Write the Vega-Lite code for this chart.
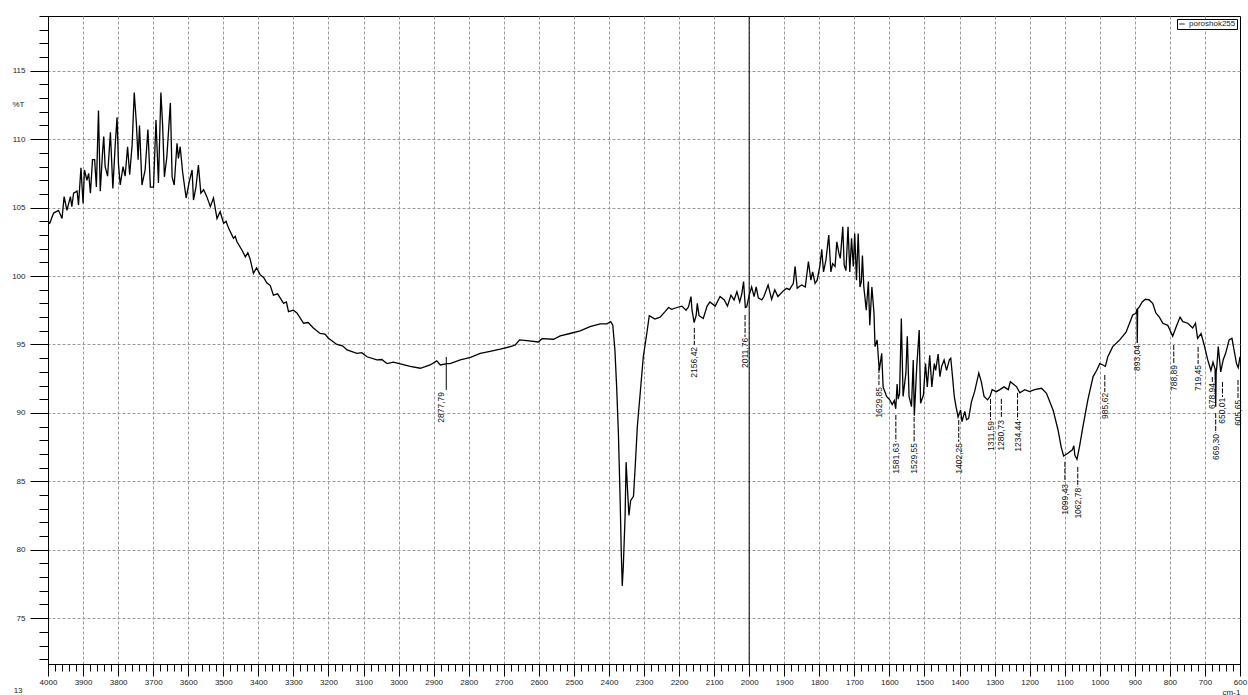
{
  "$schema": "https://vega.github.io/schema/vega-lite/v6.json",
  "width": 1192,
  "height": 648,
  "autosize": {"type": "none"},
  "padding": {"left": 48, "top": 16, "right": 8, "bottom": 31},
  "background": "white",
  "config": {"view": {"stroke": "black", "strokeWidth": 1}, "font": "Liberation Sans"},
  "title": {"text": "13", "orient": "bottom", "anchor": "start", "fontSize": 8, "fontWeight": "normal", "color": "#222", "offset": -9, "dx": 2},
  "datasets": {
    "spectrum": [
      {"wn":4000,"T":104.0},{"wn":3995,"T":103.85},{"wn":3984,"T":104.6},{"wn":3970,"T":104.8},{"wn":3960,"T":104.2},{"wn":3954,"T":105.8},{"wn":3946,"T":104.8},{"wn":3936,"T":105.8},{"wn":3932,"T":105.07},{"wn":3927,"T":106.05},{"wn":3917,"T":106.2},{"wn":3913,"T":105.2},{"wn":3906,"T":107.9},{"wn":3900,"T":105.3},{"wn":3896,"T":107.75},{"wn":3889,"T":107.0},{"wn":3884,"T":107.5},{"wn":3879,"T":106.05},{"wn":3873,"T":108.5},{"wn":3867,"T":108.5},{"wn":3862,"T":106.5},{"wn":3856,"T":112.1},{"wn":3851,"T":106.2},{"wn":3844,"T":109.2},{"wn":3841,"T":110.2},{"wn":3837,"T":108.0},{"wn":3830,"T":107.3},{"wn":3822,"T":110.5},{"wn":3815,"T":106.4},{"wn":3808,"T":109.7},{"wn":3803,"T":111.6},{"wn":3799,"T":108.2},{"wn":3794,"T":106.65},{"wn":3786,"T":108.0},{"wn":3780,"T":107.3},{"wn":3773,"T":109.45},{"wn":3767,"T":107.4},{"wn":3760,"T":109.6},{"wn":3754,"T":113.4},{"wn":3748,"T":111.2},{"wn":3743,"T":108.5},{"wn":3739,"T":111.0},{"wn":3732,"T":106.65},{"wn":3723,"T":107.75},{"wn":3715,"T":110.7},{"wn":3708,"T":106.5},{"wn":3699,"T":106.5},{"wn":3692,"T":111.4},{"wn":3685,"T":106.8},{"wn":3678,"T":113.4},{"wn":3673,"T":111.0},{"wn":3668,"T":107.25},{"wn":3661,"T":108.7},{"wn":3651,"T":112.65},{"wn":3646,"T":107.25},{"wn":3640,"T":106.65},{"wn":3632,"T":109.7},{"wn":3628,"T":108.6},{"wn":3623,"T":109.45},{"wn":3616,"T":107.6},{"wn":3606,"T":105.7},{"wn":3597,"T":106.9},{"wn":3589,"T":107.75},{"wn":3585,"T":105.55},{"wn":3578,"T":106.5},{"wn":3571,"T":108.1},{"wn":3564,"T":106.05},{"wn":3556,"T":106.3},{"wn":3547,"T":105.8},{"wn":3537,"T":105.07},{"wn":3528,"T":105.7},{"wn":3518,"T":104.2},{"wn":3509,"T":104.7},{"wn":3499,"T":103.85},{"wn":3492,"T":104.0},{"wn":3485,"T":103.5},{"wn":3471,"T":102.75},{"wn":3466,"T":102.9},{"wn":3461,"T":102.5},{"wn":3447,"T":101.9},{"wn":3437,"T":101.4},{"wn":3430,"T":101.7},{"wn":3423,"T":101.2},{"wn":3414,"T":100.2},{"wn":3405,"T":100.6},{"wn":3395,"T":100.1},{"wn":3385,"T":99.9},{"wn":3376,"T":99.5},{"wn":3366,"T":99.3},{"wn":3357,"T":98.6},{"wn":3345,"T":98.7},{"wn":3328,"T":98.0},{"wn":3320,"T":98.1},{"wn":3314,"T":97.4},{"wn":3300,"T":97.5},{"wn":3290,"T":97.3},{"wn":3271,"T":96.55},{"wn":3258,"T":96.6},{"wn":3243,"T":96.2},{"wn":3224,"T":95.8},{"wn":3210,"T":95.75},{"wn":3200,"T":95.45},{"wn":3176,"T":95.0},{"wn":3160,"T":94.9},{"wn":3147,"T":94.6},{"wn":3119,"T":94.35},{"wn":3105,"T":94.4},{"wn":3090,"T":94.1},{"wn":3062,"T":93.87},{"wn":3048,"T":93.9},{"wn":3033,"T":93.6},{"wn":3015,"T":93.7},{"wn":2995,"T":93.58},{"wn":2967,"T":93.4},{"wn":2938,"T":93.26},{"wn":2910,"T":93.5},{"wn":2891,"T":93.8},{"wn":2881,"T":93.5},{"wn":2862,"T":93.6},{"wn":2853,"T":93.6},{"wn":2824,"T":93.87},{"wn":2795,"T":94.06},{"wn":2767,"T":94.35},{"wn":2739,"T":94.5},{"wn":2710,"T":94.65},{"wn":2681,"T":94.84},{"wn":2667,"T":94.96},{"wn":2655,"T":95.33},{"wn":2634,"T":95.28},{"wn":2601,"T":95.18},{"wn":2591,"T":95.42},{"wn":2558,"T":95.38},{"wn":2539,"T":95.62},{"wn":2511,"T":95.8},{"wn":2482,"T":96.0},{"wn":2454,"T":96.3},{"wn":2425,"T":96.5},{"wn":2406,"T":96.5},{"wn":2395,"T":96.66},{"wn":2389,"T":96.4},{"wn":2383,"T":94.6},{"wn":2378,"T":91.9},{"wn":2373,"T":88.5},{"wn":2368,"T":83.6},{"wn":2365,"T":80.0},{"wn":2362,"T":77.36},{"wn":2359,"T":78.77},{"wn":2354,"T":82.4},{"wn":2351,"T":86.4},{"wn":2347,"T":84.4},{"wn":2343,"T":82.5},{"wn":2338,"T":83.6},{"wn":2330,"T":83.9},{"wn":2325,"T":86.1},{"wn":2319,"T":89.0},{"wn":2311,"T":91.4},{"wn":2302,"T":94.1},{"wn":2292,"T":95.8},{"wn":2285,"T":97.1},{"wn":2278,"T":97.0},{"wn":2269,"T":96.86},{"wn":2254,"T":97.0},{"wn":2240,"T":97.4},{"wn":2230,"T":97.7},{"wn":2221,"T":97.57},{"wn":2206,"T":97.7},{"wn":2192,"T":97.8},{"wn":2180,"T":97.5},{"wn":2173,"T":97.75},{"wn":2166,"T":98.5},{"wn":2163,"T":97.5},{"wn":2157,"T":96.6},{"wn":2151,"T":97.15},{"wn":2148,"T":98.0},{"wn":2143,"T":97.1},{"wn":2131,"T":96.9},{"wn":2120,"T":97.8},{"wn":2112,"T":98.1},{"wn":2097,"T":97.8},{"wn":2083,"T":98.5},{"wn":2071,"T":98.25},{"wn":2062,"T":97.8},{"wn":2052,"T":98.6},{"wn":2043,"T":98.25},{"wn":2035,"T":98.86},{"wn":2027,"T":98.1},{"wn":2021,"T":98.7},{"wn":2016,"T":99.6},{"wn":2011,"T":97.7},{"wn":2007,"T":97.75},{"wn":2000,"T":98.6},{"wn":1993,"T":99.2},{"wn":1986,"T":98.5},{"wn":1980,"T":99.2},{"wn":1974,"T":98.4},{"wn":1964,"T":98.25},{"wn":1958,"T":98.5},{"wn":1946,"T":99.35},{"wn":1936,"T":98.3},{"wn":1927,"T":99.0},{"wn":1918,"T":98.5},{"wn":1902,"T":98.93},{"wn":1893,"T":99.1},{"wn":1885,"T":99.0},{"wn":1874,"T":99.47},{"wn":1869,"T":100.7},{"wn":1863,"T":99.1},{"wn":1855,"T":99.27},{"wn":1850,"T":99.35},{"wn":1840,"T":99.2},{"wn":1831,"T":101.05},{"wn":1824,"T":99.7},{"wn":1819,"T":100.3},{"wn":1812,"T":99.47},{"wn":1806,"T":99.7},{"wn":1798,"T":100.8},{"wn":1793,"T":101.95},{"wn":1788,"T":100.3},{"wn":1781,"T":101.17},{"wn":1773,"T":103.0},{"wn":1767,"T":100.3},{"wn":1762,"T":100.9},{"wn":1755,"T":100.7},{"wn":1750,"T":102.5},{"wn":1744,"T":101.65},{"wn":1740,"T":101.3},{"wn":1733,"T":103.6},{"wn":1729,"T":100.8},{"wn":1724,"T":100.4},{"wn":1718,"T":103.6},{"wn":1713,"T":100.3},{"wn":1708,"T":102.75},{"wn":1703,"T":100.7},{"wn":1699,"T":103.1},{"wn":1694,"T":99.7},{"wn":1689,"T":103.1},{"wn":1684,"T":99.2},{"wn":1680,"T":99.6},{"wn":1677,"T":101.5},{"wn":1673,"T":99.2},{"wn":1666,"T":97.5},{"wn":1660,"T":99.6},{"wn":1656,"T":96.4},{"wn":1650,"T":99.2},{"wn":1644,"T":97.3},{"wn":1641,"T":94.84},{"wn":1635,"T":95.33},{"wn":1629,"T":93.1},{"wn":1622,"T":94.35},{"wn":1618,"T":91.9},{"wn":1608,"T":91.2},{"wn":1599,"T":90.95},{"wn":1592,"T":90.6},{"wn":1586,"T":90.9},{"wn":1582,"T":90.3},{"wn":1578,"T":92.1},{"wn":1575,"T":91.0},{"wn":1571,"T":91.4},{"wn":1566,"T":96.9},{"wn":1561,"T":91.2},{"wn":1553,"T":92.9},{"wn":1549,"T":95.6},{"wn":1544,"T":91.2},{"wn":1537,"T":90.45},{"wn":1532,"T":93.87},{"wn":1529,"T":89.8},{"wn":1522,"T":93.4},{"wn":1515,"T":96.05},{"wn":1511,"T":90.7},{"wn":1503,"T":91.3},{"wn":1497,"T":93.6},{"wn":1492,"T":91.9},{"wn":1485,"T":94.2},{"wn":1479,"T":91.9},{"wn":1472,"T":93.6},{"wn":1468,"T":93.1},{"wn":1461,"T":94.3},{"wn":1456,"T":92.65},{"wn":1451,"T":93.4},{"wn":1444,"T":93.87},{"wn":1437,"T":93.1},{"wn":1429,"T":93.87},{"wn":1425,"T":93.99},{"wn":1420,"T":92.65},{"wn":1415,"T":91.2},{"wn":1410,"T":90.45},{"wn":1404,"T":89.7},{"wn":1397,"T":90.2},{"wn":1393,"T":89.36},{"wn":1385,"T":90.1},{"wn":1380,"T":89.5},{"wn":1374,"T":89.6},{"wn":1366,"T":90.8},{"wn":1357,"T":91.55},{"wn":1345,"T":92.9},{"wn":1338,"T":92.28},{"wn":1330,"T":91.2},{"wn":1320,"T":90.95},{"wn":1313,"T":91.2},{"wn":1307,"T":91.7},{"wn":1295,"T":91.55},{"wn":1285,"T":91.7},{"wn":1273,"T":91.9},{"wn":1261,"T":91.7},{"wn":1255,"T":92.28},{"wn":1237,"T":91.9},{"wn":1228,"T":91.47},{"wn":1214,"T":91.7},{"wn":1200,"T":91.55},{"wn":1186,"T":91.7},{"wn":1166,"T":91.8},{"wn":1152,"T":91.43},{"wn":1133,"T":90.2},{"wn":1119,"T":88.75},{"wn":1110,"T":87.5},{"wn":1103,"T":86.85},{"wn":1091,"T":87.05},{"wn":1078,"T":87.3},{"wn":1074,"T":87.6},{"wn":1071,"T":86.9},{"wn":1065,"T":86.6},{"wn":1058,"T":87.5},{"wn":1048,"T":89.0},{"wn":1034,"T":90.95},{"wn":1019,"T":92.65},{"wn":1009,"T":93.1},{"wn":1000,"T":93.6},{"wn":991,"T":93.5},{"wn":984,"T":93.4},{"wn":977,"T":94.1},{"wn":963,"T":94.84},{"wn":943,"T":95.33},{"wn":925,"T":95.9},{"wn":906,"T":97.15},{"wn":896,"T":97.3},{"wn":894,"T":97.6},{"wn":893.04,"T":95.1},{"wn":892,"T":97.6},{"wn":887,"T":97.75},{"wn":879,"T":98.1},{"wn":870,"T":98.3},{"wn":859,"T":98.25},{"wn":849,"T":98.0},{"wn":840,"T":97.3},{"wn":830,"T":97.0},{"wn":820,"T":96.55},{"wn":806,"T":96.4},{"wn":792,"T":95.6},{"wn":782,"T":96.3},{"wn":771,"T":97.0},{"wn":763,"T":96.67},{"wn":749,"T":96.55},{"wn":735,"T":96.2},{"wn":727,"T":96.55},{"wn":721,"T":95.45},{"wn":711,"T":95.8},{"wn":701,"T":94.84},{"wn":692,"T":93.87},{"wn":683,"T":93.1},{"wn":677,"T":93.7},{"wn":671,"T":93.2},{"wn":669.3,"T":90.45},{"wn":668,"T":93.0},{"wn":666,"T":93.4},{"wn":662,"T":94.84},{"wn":655,"T":93.0},{"wn":648,"T":93.87},{"wn":641,"T":94.35},{"wn":631,"T":95.33},{"wn":623,"T":95.45},{"wn":617,"T":94.6},{"wn":610,"T":93.6},{"wn":605,"T":93.3},{"wn":600,"T":94.1}
    ],
    "cursor": [{"wn": 2000}],
    "solidLeaders": [{"lx": 2864, "y1": 94.09, "y2": 91.68}],
    "dashLeaders": [
      {"lx": 2156.42, "y1": 96.21, "y2": 94.96},
      {"lx": 2011.76, "y1": 97.15, "y2": 95.55},
      {"lx": 1629.85, "y1": 93.28, "y2": 92.04},
      {"lx": 1581.63, "y1": 89.85, "y2": 87.88},
      {"lx": 1529.55, "y1": 89.7, "y2": 87.88},
      {"lx": 1402.25, "y1": 89.48, "y2": 87.88},
      {"lx": 1311.59, "y1": 91.02, "y2": 89.48},
      {"lx": 1280.73, "y1": 91.02, "y2": 89.63},
      {"lx": 1234.44, "y1": 91.46, "y2": 89.48},
      {"lx": 1099.43, "y1": 86.42, "y2": 84.96},
      {"lx": 1062.78, "y1": 86.05, "y2": 84.59},
      {"lx": 985.62, "y1": 92.77, "y2": 91.53},
      {"lx": 788.89, "y1": 94.96, "y2": 93.65},
      {"lx": 719.45, "y1": 94.82, "y2": 93.58},
      {"lx": 678.94, "y1": 92.62, "y2": 92.26},
      {"lx": 669.3, "y1": 89.99, "y2": 88.53},
      {"lx": 650.01, "y1": 92.26, "y2": 91.16},
      {"lx": 605.65, "y1": 92.4, "y2": 91.02}
    ],
    "labels": [
      {"wn": 2877.79, "ty": 91.53, "label": "2877,79"},
      {"wn": 2156.42, "ty": 94.82, "label": "2156,42"},
      {"wn": 2011.76, "ty": 95.48, "label": "2011,76"},
      {"wn": 1629.85, "ty": 91.89, "label": "1629,85"},
      {"wn": 1581.63, "ty": 87.8, "label": "1581,63"},
      {"wn": 1529.55, "ty": 87.8, "label": "1529,55"},
      {"wn": 1402.25, "ty": 87.8, "label": "1402,25"},
      {"wn": 1311.59, "ty": 89.41, "label": "1311,59"},
      {"wn": 1280.73, "ty": 89.48, "label": "1280,73"},
      {"wn": 1234.44, "ty": 89.41, "label": "1234,44"},
      {"wn": 1099.43, "ty": 84.81, "label": "1099,43"},
      {"wn": 1062.78, "ty": 84.52, "label": "1062,78"},
      {"wn": 985.62, "ty": 91.46, "label": "985,62"},
      {"wn": 893.04, "ty": 94.96, "label": "893,04"},
      {"wn": 788.89, "ty": 93.5, "label": "788,89"},
      {"wn": 719.45, "ty": 93.5, "label": "719,45"},
      {"wn": 678.94, "ty": 92.18, "label": "678,94"},
      {"wn": 669.3, "ty": 88.46, "label": "669,30"},
      {"wn": 650.01, "ty": 91.1, "label": "650,01"},
      {"wn": 605.65, "ty": 90.95, "label": "605,65"}
    ]
  },
  "layer": [
    {
      "data": {"name": "spectrum"},
      "mark": {"type": "line", "strokeWidth": 1.3, "interpolate": "linear"},
      "transform": [{"calculate": "'poroshok255'", "as": "sample"}],
      "encoding": {
        "x": {
          "field": "wn", "type": "quantitative",
          "scale": {"domain": [600, 4000], "reverse": true, "nice": false, "zero": false},
          "axis": {
            "orient": "bottom",
            "tickCount": 400,
            "values": [600,620,640,660,680,700,720,740,760,780,800,820,840,860,880,900,920,940,960,980,1000,1020,1040,1060,1080,1100,1120,1140,1160,1180,1200,1220,1240,1260,1280,1300,1320,1340,1360,1380,1400,1420,1440,1460,1480,1500,1520,1540,1560,1580,1600,1620,1640,1660,1680,1700,1720,1740,1760,1780,1800,1820,1840,1860,1880,1900,1920,1940,1960,1980,2000,2020,2040,2060,2080,2100,2120,2140,2160,2180,2200,2220,2240,2260,2280,2300,2320,2340,2360,2380,2400,2420,2440,2460,2480,2500,2520,2540,2560,2580,2600,2620,2640,2660,2680,2700,2720,2740,2760,2780,2800,2820,2840,2860,2880,2900,2920,2940,2960,2980,3000,3020,3040,3060,3080,3100,3120,3140,3160,3180,3200,3220,3240,3260,3280,3300,3320,3340,3360,3380,3400,3420,3440,3460,3480,3500,3520,3540,3560,3580,3600,3620,3640,3660,3680,3700,3720,3740,3760,3780,3800,3820,3840,3860,3880,3900,3920,3940,3960,3980,4000],
            "format": "d",
            "labelExpr": "datum.value % 100 === 0 ? datum.label : ''",
            "labelFlush": false,
            "labelOverlap": false,
            "labelFontSize": 8,
            "labelColor": "#222",
            "labelPadding": 2,
            "tickSize": {"condition": {"test": "datum.value % 100 === 0", "value": 12}, "value": 7},
            "tickColor": "black",
            "domainColor": "black",
            "grid": true,
            "gridColor": "#9a9a9a",
            "gridDash": [3, 2],
            "gridOpacity": {"condition": {"test": "datum.value % 100 === 0 && datum.value !== 600 && datum.value !== 4000", "value": 1}, "value": 0},
            "title": "cm-1",
            "titleFontSize": 8,
            "titleFontWeight": "normal",
            "titleColor": "#222",
            "titleX": 1183,
            "titleY": 28,
            "titleAlign": "center",
            "titleBaseline": "middle"
          }
        },
        "y": {
          "field": "T", "type": "quantitative",
          "scale": {"domain": [71.65, 119.0], "nice": false, "zero": false},
          "axis": {
            "orient": "left",
            "tickCount": 200,
            "values": [72,73,74,75,76,77,78,79,80,81,82,83,84,85,86,87,88,89,90,91,92,93,94,95,96,97,98,99,100,101,102,103,104,105,106,107,108,109,110,111,112,113,114,115,116,117,118,119],
            "format": "d",
            "labelExpr": "datum.value % 5 === 0 ? datum.label : ''",
            "labelFontSize": 8,
            "labelColor": "#222",
            "labelPadding": 5,
            "labelFlush": false,
            "labelOverlap": false,
            "tickSize": {"condition": {"test": "datum.value % 5 === 0", "value": 18}, "value": 9},
            "tickColor": "black",
            "domainColor": "black",
            "grid": true,
            "gridColor": "#9a9a9a",
            "gridDash": [3, 2],
            "gridOpacity": {"condition": {"test": "datum.value % 5 === 0", "value": 1}, "value": 0},
            "title": "%T",
            "titleFontSize": 8,
            "titleFontWeight": "normal",
            "titleColor": "#222",
            "titleAngle": 0,
            "titleX": -30,
            "titleY": 88,
            "titleAlign": "center",
            "titleBaseline": "middle"
          }
        },
        "color": {
          "field": "sample", "type": "nominal",
          "scale": {"range": ["black"]},
          "legend": {
            "orient": "top-right", "offset": 3, "title": null,
            "strokeColor": "black", "fillColor": "white", "padding": 1,
            "labelFontSize": 8, "labelColor": "#222",
            "symbolType": "stroke", "symbolSize": 30, "symbolStrokeWidth": 0.8, "labelOffset": 3
          }
        }
      }
    },
    {
      "data": {"name": "cursor"},
      "mark": {"type": "rule", "color": "black", "strokeWidth": 1},
      "encoding": {"x": {"field": "wn", "type": "quantitative"}}
    },
    {
      "data": {"name": "solidLeaders"},
      "mark": {"type": "rule", "color": "black", "strokeWidth": 1},
      "encoding": {
        "x": {"field": "lx", "type": "quantitative"},
        "y": {"field": "y1", "type": "quantitative"},
        "y2": {"field": "y2"}
      }
    },
    {
      "data": {"name": "dashLeaders"},
      "mark": {"type": "rule", "color": "black", "strokeWidth": 1, "strokeDash": [5, 1.5]},
      "encoding": {
        "x": {"field": "lx", "type": "quantitative"},
        "y": {"field": "y1", "type": "quantitative"},
        "y2": {"field": "y2"}
      }
    },
    {
      "data": {"name": "labels"},
      "mark": {"type": "text", "angle": 270, "align": "right", "baseline": "middle", "fontSize": 8.5, "color": "#111"},
      "encoding": {
        "x": {"field": "wn", "type": "quantitative"},
        "y": {"field": "ty", "type": "quantitative"},
        "text": {"field": "label"}
      }
    }
  ]
}
